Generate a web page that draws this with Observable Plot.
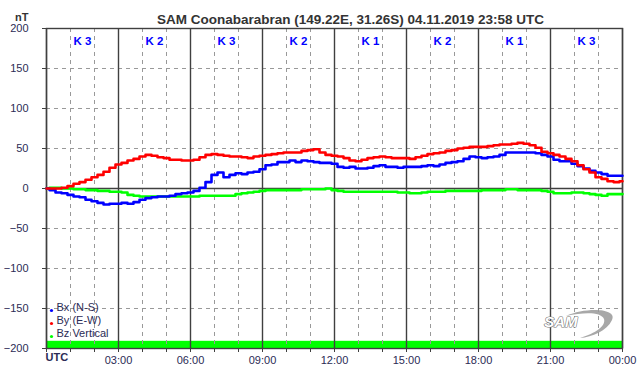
<!DOCTYPE html>
<html><head><meta charset="utf-8">
<script src="https://cdn.jsdelivr.net/npm/d3@7"></script>
<script src="https://cdn.jsdelivr.net/npm/@observablehq/plot@0.6"></script>
<style>
body{margin:0;background:#fff;}
#chart svg{display:block;font-family:Arial,"Liberation Sans",sans-serif;}
</style></head><body><div id="chart"></div>
<script>
const title = "SAM Coonabarabran (149.22E, 31.26S) 04.11.2019 23:58 UTC";
const unit = "nT";
const kIndex = [3, 2, 3, 2, 1, 2, 1, 3];
const seriesNames = ["Bx (N-S)", "By (E-W)", "Bz Vertical"];
const seriesColors = ["#0000ff", "#ff0000", "#00ff00"];
const yTicks = [-200, -150, -100, -50, 0, 50, 100, 150, 200];
const coverage = [[0, 24]];
// samples every 15 minutes, 00:00 .. 24:00 UTC
const hours = d3.range(0, 97).map(i => i / 4);
const bx = [0,-2,-5,-6,-8,-10,-11,-14,-16,-18,-20,-19,-19,-18,-19,-17,-14,-12,-11,-10,-10,-9,-7,-6,-5,-3,1,8,17,20,14,17,19,18,20,21,24,29,30,33,33,35,33,35,34,33,32,32,31,27,26,27,25,25,26,28,29,27,27,26,27,27,27,28,29,28,30,32,33,34,37,40,39,38,39,40,42,45,45,45,45,45,44,42,40,36,34,34,31,28,25,22,20,18,16,16,16];
const by = [0,0,0,1,3,6,8,11,14,17,21,26,30,32,35,37,40,42,41,39,38,36,36,35,35,36,39,42,43,42,41,40,40,39,38,40,41,42,43,44,45,45,45,47,48,49,45,42,41,40,38,35,34,36,38,39,40,39,38,38,38,37,39,41,43,44,45,47,48,50,51,52,52,52,53,54,55,55,56,57,56,54,51,46,44,42,40,37,34,29,24,20,14,12,9,8,9];
const bz = [0,1,1,0,0,-1,-1,-2,-2,-3,-3,-4,-4,-5,-8,-9,-10,-10,-10,-10,-10,-10,-10,-10,-10,-10,-9,-9,-9,-9,-9,-9,-7,-6,-5,-4,-3,-2,-2,-2,-2,-2,-2,-1,-1,-1,-1,0,-2,-3,-4,-4,-4,-4,-4,-4,-4,-4,-4,-5,-5,-6,-6,-5,-4,-4,-4,-3,-3,-3,-3,-3,-3,-2,-2,-2,-2,-1,-1,-2,-2,-2,-2,-3,-4,-6,-6,-6,-5,-5,-6,-7,-8,-9,-7,-7,-7];

const rows = [];
[bz, bx, by].forEach((arr, k) => {
  const name = [seriesNames[2], seriesNames[0], seriesNames[1]][k];
  arr.forEach((v, i) => rows.push({h: hours[i], v, name}));
});
const kRows = kIndex.map((k, i) => ({h: i * 3 + 1.5, label: "K " + k}));
const hourTicks = d3.range(0, 25);
const major = hourTicks.filter(h => h % 3 === 0);
const minor = hourTicks.filter(h => h % 3 !== 0);
const fmt = h => h === 0 ? "" : (h % 3 === 0 ? String(h % 24).padStart(2, "0") + ":00" : "");
const txt = "#2b2b55";
const font = {fontSize: 11, fill: txt};

const lineMark = (name, color) => Plot.line(rows.filter(r => r.name === name), {x: "h", y: "v", stroke: color, strokeWidth: 2.6, curve: "step"});

const legend = seriesNames.flatMap((n, i) => [
  Plot.dot([n], {frameAnchor: "bottom-left", dx: 5, dy: -(38 - 13 * i), r: 1.6, fill: seriesColors[i], stroke: null}),
  Plot.text([n], {frameAnchor: "bottom-left", dx: 10, dy: -(38 - 13 * i), textAnchor: "start", ...font})
]);

const chart = Plot.plot({
  width: 642, height: 376,
  marginLeft: 46, marginRight: 20, marginTop: 28, marginBottom: 28,
  style: {fontFamily: "Arial, 'Liberation Sans', sans-serif", background: "#fff"},
  x: {domain: [0, 24]},
  y: {domain: [-200, 200]},
  marks: [
    Plot.rect(coverage, {x1: d => d[0], x2: d => d[1], y1: -200, y2: -191, fill: "#00ff00"}),
    Plot.ruleX(minor, {stroke: "#999", strokeDasharray: "4,4", strokeWidth: 1}),
    Plot.ruleY(yTicks.filter(v => v !== 0 && Math.abs(v) !== 200), {stroke: "#999", strokeDasharray: "4,4", strokeWidth: 1}),
    Plot.ruleX(major, {stroke: "#404040", strokeWidth: 1.4}),
    Plot.ruleY([0], {stroke: "#404040", strokeWidth: 1.4}),
    Plot.frame({stroke: "#404040", strokeWidth: 1.4}),
    Plot.axisX(hourTicks, {tickSize: 4, tickPadding: 4, tickFormat: fmt, stroke: "#404040", ...font, label: null}),
    Plot.axisY(yTicks, {tickSize: 4, tickPadding: 14, stroke: "#404040", ...font, label: null}),
    Plot.text(["UTC"], {frameAnchor: "bottom-left", dy: 12, dx: -1, textAnchor: "start", fontWeight: "bold", ...font}),
    lineMark(seriesNames[2], seriesColors[2]),
    lineMark(seriesNames[0], seriesColors[0]),
    lineMark(seriesNames[1], seriesColors[1]),
    Plot.text(kRows, {x: "h", text: "label", frameAnchor: "top", dy: 8, fill: "#0000ff", fontWeight: "bold", fontSize: 11.5}),
    Plot.text([title], {frameAnchor: "top", dx: 16, dy: -14, fontWeight: "bold", fontSize: 13.5, fill: "#333"}),
    Plot.text([unit], {frameAnchor: "top-left", dx: -18, dy: -15, textAnchor: "end", fontWeight: "bold", fontSize: 11, fill: "#333"}),
    ...legend,
    Plot.text(["SAM"], {frameAnchor: "bottom-right", dx: -45, dy: -22, fontSize: 15, fontStyle: "italic", fontWeight: "bold", fill: "#fff", stroke: "#777", strokeWidth: 1.2, letterSpacing: "1px"})
  ]
});
document.getElementById("chart").appendChild(chart);
// logo swoosh
const svg = d3.select(chart);
svg.append("path")
  .attr("d", "M566,316 C585,307 618,308 612,320 C607,331 592,337 580,338 C596,333 606,326 604,319 C601,312 585,312 566,316 Z")
  .attr("fill", "#999").attr("opacity", 0.85);
</script></body></html>
